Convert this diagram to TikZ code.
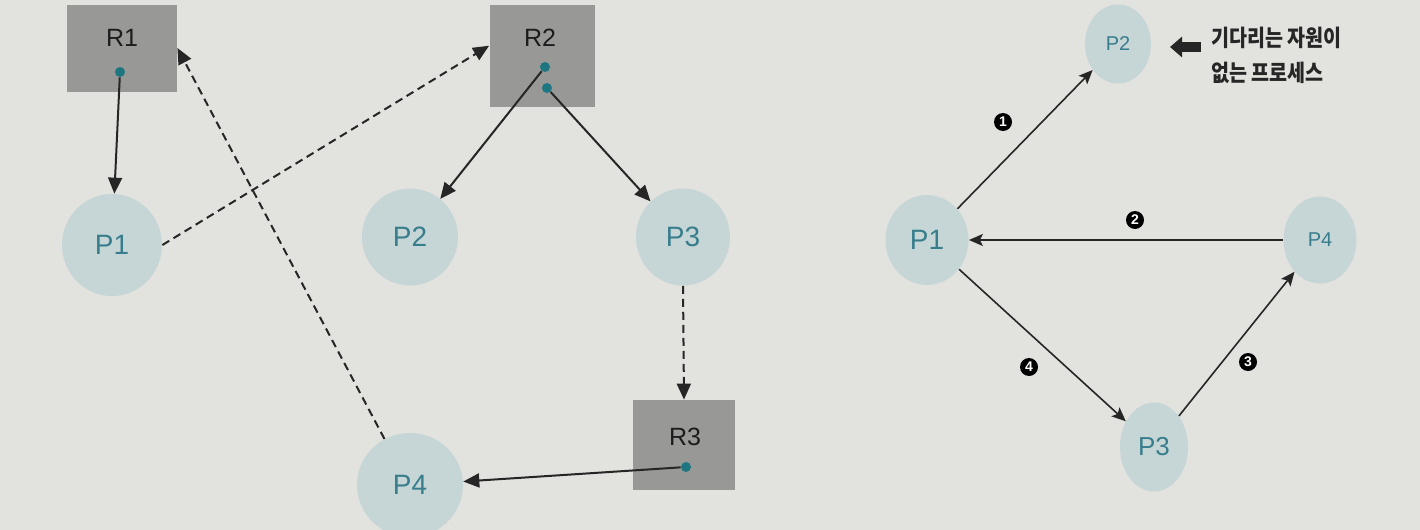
\documentclass[tikz,border=0pt]{standalone}
\usepackage{fontspec}
\setmainfont{Liberation Sans}
\newfontfamily\krfont[FakeStretch=0.85]{Noto Sans CJK KR}
\usetikzlibrary{arrows.meta,shapes.geometric,calc}
\definecolor{bgc}{RGB}{226,226,223}
\definecolor{circfill}{RGB}{198,214,214}
\definecolor{proctext}{RGB}{55,125,140}
\definecolor{boxfill}{RGB}{152,152,150}
\definecolor{boxtext}{RGB}{28,28,28}
\definecolor{dotc}{RGB}{30,118,128}
\definecolor{linec}{RGB}{38,38,38}
\begin{document}
\begin{tikzpicture}[x=0.5pt,y=-0.5pt,
  proc/.style={ellipse, fill=circfill, text=proctext, inner sep=0pt, font=\fontsize{14}{16}\selectfont},
  res/.style={rectangle, fill=boxfill, inner sep=0pt},
  reslabel/.style={text=boxtext, inner sep=0pt, font=\fontsize{12.5}{14}\selectfont},
  resdot/.style={circle, fill=dotc, minimum size=5pt, inner sep=0pt},
  conn/.style={draw=linec, line width=1pt, -{Triangle[length=8pt,width=7pt]}},
  dconn/.style={conn, dash pattern=on 4pt off 2.5pt},
  rconn/.style={draw=linec, line width=0.8pt, -{Stealth[length=7pt,width=6pt,inset=1.5pt]}},
  num/.style={circle, fill=black, text=white, font=\bfseries\fontsize{7}{7}\selectfont, minimum size=9pt, inner sep=0pt}]
\fill[bgc] (0,0) rectangle (1420,530);
\useasboundingbox (0,0) rectangle (1420,530);
\clip (0,0) rectangle (1420,530);

% ---------- left diagram ----------
\node[res, minimum width=55pt, minimum height=43.5pt] (R1) at (122,48) {};
\node[reslabel] (R1l) at (122,38) {R1};
\node[resdot] (R1d) at (120,72) {};

\node[res, minimum width=52.5pt, minimum height=51pt] (R2) at (542,56) {};
\node[reslabel] (R2l) at (540,38) {R2};
\node[resdot] (R2d1) at (545,67) {};
\node[resdot] (R2d2) at (547,88) {};

\node[res, minimum width=51pt, minimum height=45pt] (R3) at (684,445) {};
\node[reslabel] (R3l) at (685,437) {R3};
\node[resdot] (R3d) at (686,467) {};

\node[proc, minimum width=50pt, minimum height=51pt] (LP1) at (112,245) {P1};
\node[proc, minimum width=48pt, minimum height=48.5pt] (LP2) at (410,237) {P2};
\node[proc, minimum width=47pt, minimum height=48.5pt] (LP3) at (683,237) {P3};
\node[proc, minimum width=53pt, minimum height=52pt] (LP4) at (410,485) {P4};

\draw[conn] (R1d) -- (LP1);
\draw[dconn] (LP1.east) -- ($(R2.north west)!0.4!(R2.south west)$);
\draw[dconn] (LP4.119) -- (R1.east);
\draw[conn] (R2d1) -- (LP2);
\draw[conn] (R2d2) -- (LP3);
\draw[dconn] (LP3.south) -- (R3.north);
\draw[conn] (R3d) -- (LP4);

% ---------- right diagram ----------
\node[proc, minimum width=41.5pt, minimum height=45pt] (P1) at (927,240) {P1};
\node[proc, minimum width=33pt, minimum height=39.5pt, font=\fontsize{10}{12}\selectfont] (P2) at (1118,44) {P2};
\node[proc, minimum width=36.5pt, minimum height=43.5pt, font=\fontsize{10}{12}\selectfont] (P4) at (1320,240) {P4};
\node[proc, minimum width=34pt, minimum height=44.5pt, font=\fontsize{13}{15}\selectfont] (P3) at (1154,447) {P3};

\draw[rconn] (P1) -- (P2);
\draw[rconn] (P4.west) -- (P1.east);
\draw[rconn] (P3) -- (P4);
\draw[rconn] (P1) -- (P3);

\node[num] (n1) at (1003,122) {1};
\node[num] (n2) at (1135,220) {2};
\node[num] (n3) at (1248,362) {3};
\node[num] (n4) at (1029,367) {4};

\node[anchor=west, align=left, inner sep=0pt, text=black!85,
      font=\krfont\bfseries\fontsize{11.5}{17.5}\selectfont] (note) at (1211,55)
      {기다리는 자원이\\없는 프로세스};
\coordinate (bstart) at (1201,47);
\coordinate (btip) at (1170,47);
\draw[black!85, line width=5pt, -{Triangle[length=6pt,width=10pt]}] (bstart) -- (btip);
\end{tikzpicture}
\end{document}
